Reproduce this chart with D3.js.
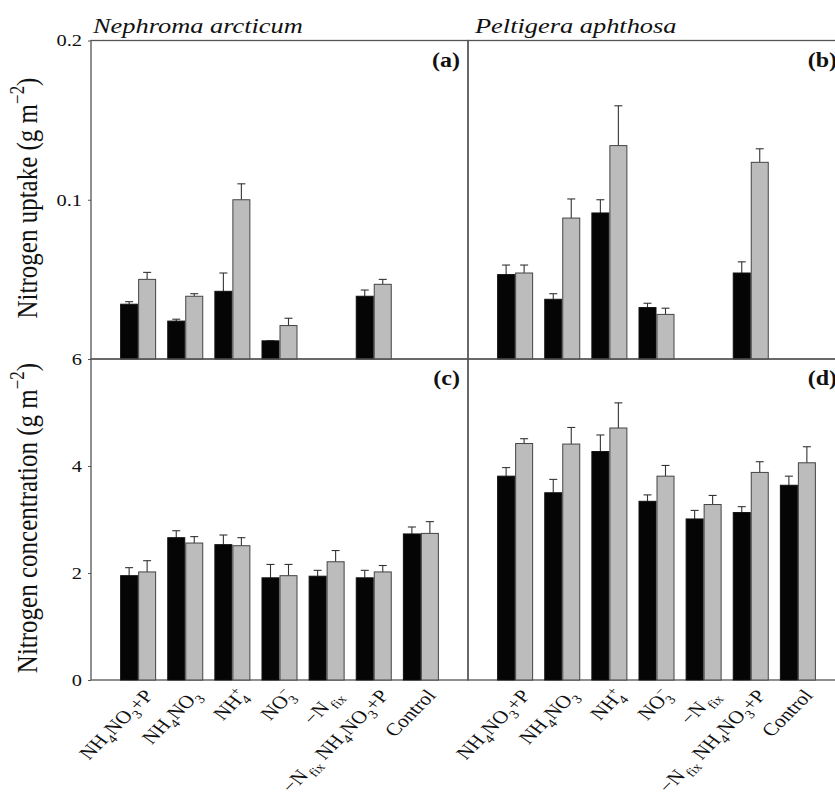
<!DOCTYPE html>
<html>
<head>
<meta charset="utf-8">
<script src="https://cdn.jsdelivr.net/npm/d3@7"></script>
<style>
  body { margin: 0; background: #fff; }
  svg { display: block; }
  text { font-family: "Liberation Serif", "Times New Roman", serif; fill: #111; }
</style>
</head>
<body>
<svg id="chart"></svg>
<script>
// treatments along the x axis
const treatments = ["NH4NO3+P", "NH4NO3", "NH4+", "NO3-", "-Nfix", "-Nfix NH4NO3+P", "Control"];
// rich labels: k = sub / sup, back = stacked over previous sub
const treatmentLabels = [
  [{ t: "NH" }, { t: "4", k: "sub" }, { t: "NO" }, { t: "3", k: "sub" }, { t: "+P" }],
  [{ t: "NH" }, { t: "4", k: "sub" }, { t: "NO" }, { t: "3", k: "sub" }],
  [{ t: "NH" }, { t: "4", k: "sub" }, { t: "+", k: "sup", back: true }],
  [{ t: "NO" }, { t: "3", k: "sub" }, { t: "\u2212", k: "sup", back: true }],
  [{ t: "\u2212N" }, { t: "fix", k: "sub", gap: true }],
  [{ t: "\u2212N" }, { t: "fix", k: "sub", gap: true }, { t: " NH" }, { t: "4", k: "sub" }, { t: "NO" }, { t: "3", k: "sub" }, { t: "+P" }],
  [{ t: "Control" }]
];

// (a) Nephroma arcticum, nitrogen uptake
const uptakeNephBlack = [0.0344, 0.0238, 0.0425, 0.0114, null, 0.0394, null];
const uptakeNephBlackErr = [0.0016, 0.0012, 0.0115, 0, null, 0.0039, null];
const uptakeNephGrey = [0.050, 0.0394, 0.100, 0.021, null, 0.0469, null];
const uptakeNephGreyErr = [0.0044, 0.0016, 0.010, 0.0046, null, 0.0031, null];

// (b) Peltigera aphthosa, nitrogen uptake
const uptakePeltBlack = [0.053, 0.0375, 0.0917, 0.0323, null, 0.054, null];
const uptakePeltBlackErr = [0.006, 0.0035, 0.0083, 0.0027, null, 0.007, null];
const uptakePeltGrey = [0.054, 0.0885, 0.134, 0.028, null, 0.1235, null];
const uptakePeltGreyErr = [0.005, 0.012, 0.025, 0.0039, null, 0.0085, null];

// (c) Nephroma arcticum, nitrogen concentration
const concNephBlack = [1.95, 2.66, 2.53, 1.91, 1.94, 1.91, 2.73];
const concNephBlackErr = [0.15, 0.13, 0.18, 0.25, 0.11, 0.14, 0.13];
const concNephGrey = [2.02, 2.56, 2.51, 1.95, 2.21, 2.02, 2.74];
const concNephGreyErr = [0.21, 0.12, 0.15, 0.21, 0.21, 0.12, 0.22];

// (d) Peltigera aphthosa, nitrogen concentration
const concPeltBlack = [3.81, 3.50, 4.27, 3.34, 3.01, 3.13, 3.64];
const concPeltBlackErr = [0.16, 0.25, 0.31, 0.12, 0.16, 0.11, 0.17];
const concPeltGrey = [4.42, 4.41, 4.71, 3.81, 3.28, 3.88, 4.06];
const concPeltGreyErr = [0.09, 0.31, 0.47, 0.20, 0.17, 0.20, 0.30];

const uptakeTicks = [0.1, 0.2];
const concTicks = [0, 2, 4, 6];
const species = ["Nephroma arcticum", "Peltigera aphthosa"];

const layout = { width: 835, height: 797, stretch: 1.2, barW: 17, gap: 1 };

const svg = d3.select("#chart")
  .attr("width", layout.width)
  .attr("height", layout.height);

// scales
const xLeft = d3.scalePoint().domain(treatments).range([91, 468]).padding(1);
const xRight = d3.scalePoint().domain(treatments).range([468, 845]).padding(1);
const yUptake = d3.scaleLinear().domain([0, 0.2]).range([359, 40.5]);
const yConc = d3.scaleLinear().domain([0, 6]).range([680, 359]);

const panels = [
  { x: xLeft, y: yUptake, tag: "(a)", black: uptakeNephBlack, blackErr: uptakeNephBlackErr, grey: uptakeNephGrey, greyErr: uptakeNephGreyErr },
  { x: xRight, y: yUptake, tag: "(b)", black: uptakePeltBlack, blackErr: uptakePeltBlackErr, grey: uptakePeltGrey, greyErr: uptakePeltGreyErr },
  { x: xLeft, y: yConc, tag: "(c)", black: concNephBlack, blackErr: concNephBlackErr, grey: concNephGrey, greyErr: concNephGreyErr },
  { x: xRight, y: yConc, tag: "(d)", black: concPeltBlack, blackErr: concPeltBlackErr, grey: concPeltGrey, greyErr: concPeltGreyErr }
];

// writes tspans for sub/superscripts
function richText(sel, segs, fs) {
  let shift = 0;
  const small = fs * 0.68;
  segs.forEach((s) => {
    const target = s.k === "sub" ? fs * 0.28 : s.k === "sup" ? -fs * 0.42 : 0;
    const ts = sel.append("tspan").attr("dy", target - shift).text(s.t);
    if (s.k) ts.attr("font-size", small);
    if (s.back) ts.attr("dx", -small * 0.5);
    if (s.gap) ts.attr("dx", 2);
    shift = target;
  });
}

panels.forEach((p) => {
  const [x0, x1] = p.x.range();
  const [y0, y1] = p.y.range();
  const g = svg.append("g");

  // frame
  g.append("rect")
    .attr("x", x0).attr("y", y1)
    .attr("width", x1 - x0).attr("height", y0 - y1)
    .attr("fill", "none").attr("stroke", "#555").attr("stroke-width", 1.3);

  const rows = [];
  treatments.forEach((t, i) => {
    if (p.black[i] != null) rows.push({ t, v: p.black[i], e: p.blackErr[i], k: 0 });
    if (p.grey[i] != null) rows.push({ t, v: p.grey[i], e: p.greyErr[i], k: 1 });
  });
  const bx = (d) => p.x(d.t) + (d.k === 0 ? -layout.barW - layout.gap / 2 : layout.gap / 2);

  // error bars (drawn behind the bars)
  const err = g.selectAll(".err").data(rows).join("g")
    .attr("stroke", "#333").attr("stroke-width", 1.1);
  err.append("line")
    .attr("x1", (d) => bx(d) + layout.barW / 2).attr("x2", (d) => bx(d) + layout.barW / 2)
    .attr("y1", (d) => p.y(d.v)).attr("y2", (d) => p.y(d.v + d.e));
  err.append("line")
    .attr("x1", (d) => bx(d) + layout.barW / 2 - 4).attr("x2", (d) => bx(d) + layout.barW / 2 + 4)
    .attr("y1", (d) => p.y(d.v + d.e)).attr("y2", (d) => p.y(d.v + d.e));

  g.selectAll(".bar").data(rows).join("rect")
    .attr("x", bx)
    .attr("y", (d) => p.y(d.v))
    .attr("width", layout.barW)
    .attr("height", (d) => p.y(0) - p.y(d.v))
    .attr("fill", (d) => (d.k === 0 ? "#050505" : "#bcbcbc"))
    .attr("stroke", (d) => (d.k === 0 ? "#111" : "#444"))
    .attr("stroke-width", 1);

  // panel letter
  g.append("text")
    .attr("transform", `translate(${x1 - 8},${y1 + 26}) scale(${layout.stretch},1)`)
    .attr("text-anchor", "end")
    .attr("font-weight", "bold")
    .attr("font-size", 20)
    .text(p.tag);
});

// y axes on the left
[[yUptake, uptakeTicks, d3.format(".1f")], [yConc, concTicks, d3.format("d")]].forEach(([y, ticks, fmt]) => {
  const ax = svg.append("g")
    .attr("transform", "translate(91,0)")
    .call(d3.axisLeft(y).tickValues(ticks).tickFormat(fmt).tickSize(3).tickPadding(4));
  ax.select(".domain").remove();
  ax.selectAll("line").attr("stroke", "#555");
  ax.selectAll("text")
    .attr("font-family", "Liberation Serif")
    .attr("font-size", 17)
    .attr("fill", "#111")
    .attr("transform", `scale(${layout.stretch},1)`)
    .attr("x", -9 / layout.stretch);
});

// axis titles
[["Nitrogen uptake (g m", 198], ["Nitrogen concentration (g m", 518]].forEach(([t, cy]) => {
  const txt = svg.append("text")
    .attr("transform", `translate(37,${cy}) scale(${layout.stretch},1) rotate(-90)`)
    .attr("text-anchor", "middle")
    .attr("font-size", 25);
  richText(txt, [{ t }, { t: "\u22122", k: "sup" }, { t: ")" }], 25);
});

// species titles
species.forEach((s, i) => {
  svg.append("text")
    .attr("transform", `translate(${[93, 475][i]},33) scale(${layout.stretch},1)`)
    .attr("font-style", "italic")
    .attr("font-size", 22)
    .text(s);
});

// rotated treatment labels under both bottom panels
[xLeft, xRight].forEach((x) => {
  treatments.forEach((t, i) => {
    const txt = svg.append("text")
      .attr("transform", `translate(${x(t) + 16},${696}) scale(${layout.stretch},1) rotate(-50)`)
      .attr("text-anchor", "end")
      .attr("font-size", 18);
    richText(txt, treatmentLabels[i], 18);
  });
});
</script>
</body>
</html>
